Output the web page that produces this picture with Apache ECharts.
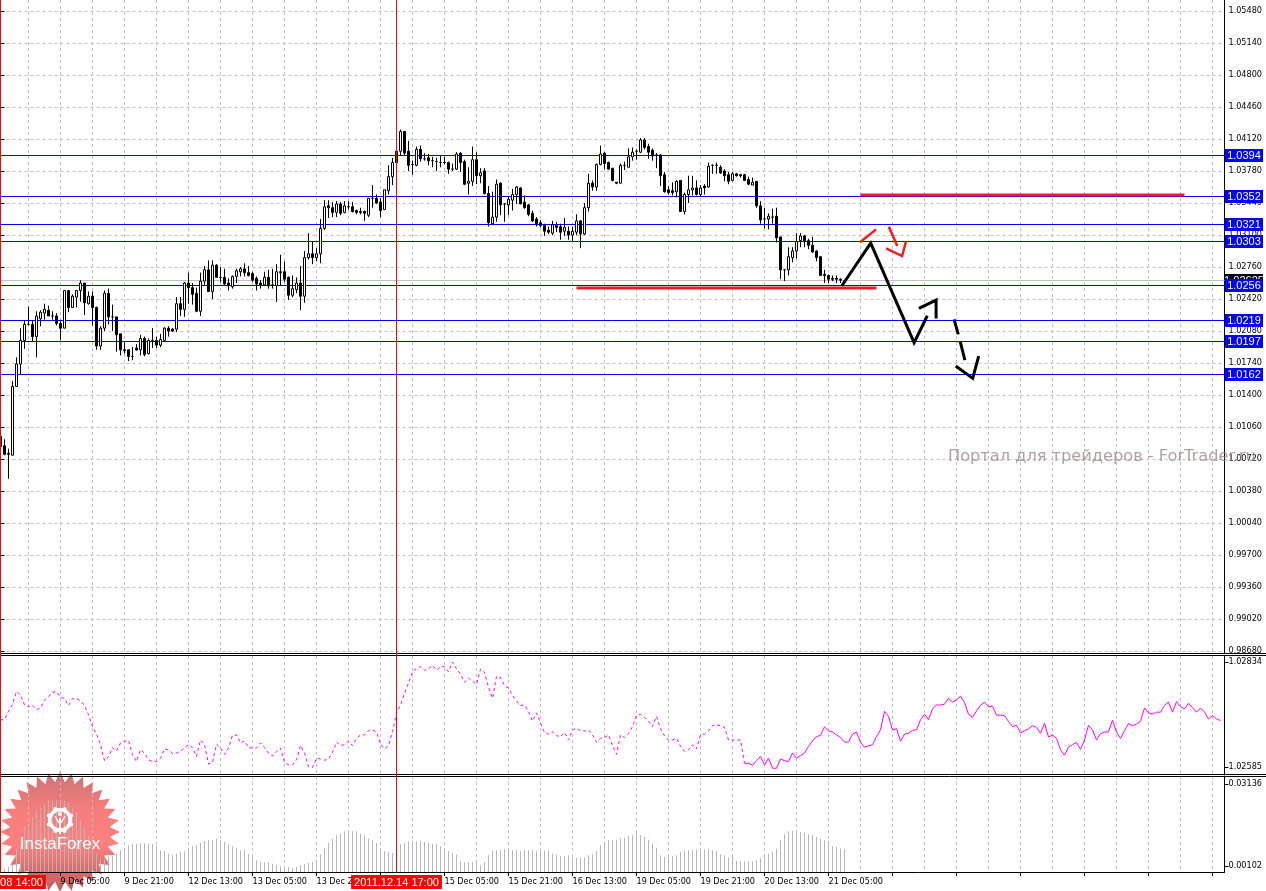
<!DOCTYPE html>
<html><head><meta charset="utf-8"><style>html,body{margin:0;padding:0;background:#fff}#c{width:1266px;height:891px}</style>
<script src="https://cdn.jsdelivr.net/npm/echarts@6/dist/echarts.min.js"></script></head><body><div id="c"></div>
<script>
const barOpen=[1.0095,1.0085,1.0077,1.0075,1.0148,1.0172,1.0197,1.0214,1.0214,1.0201,1.0220,1.0226,1.0229,1.0223,1.0223,1.0215,1.0210,1.0250,1.0232,1.0243,1.0250,1.0258,1.0236,1.0244,1.0232,1.0191,1.0210,1.0247,1.0222,1.0222,1.0204,1.0187,1.0187,1.0180,1.0189,1.0187,1.0199,1.0183,1.0197,1.0197,1.0192,1.0197,1.0210,1.0209,1.0209,1.0236,1.0230,1.0258,1.0253,1.0247,1.0228,1.0260,1.0272,1.0249,1.0277,1.0264,1.0264,1.0258,1.0254,1.0265,1.0270,1.0273,1.0269,1.0268,1.0263,1.0258,1.0256,1.0264,1.0256,1.0255,1.0270,1.0270,1.0264,1.0245,1.0251,1.0258,1.0244,1.0285,1.0289,1.0285,1.0289,1.0316,1.0340,1.0338,1.0333,1.0342,1.0333,1.0339,1.0339,1.0335,1.0334,1.0334,1.0330,1.0348,1.0348,1.0344,1.0336,1.0356,1.0371,1.0398,1.0398,1.0419,1.0398,1.0384,1.0383,1.0400,1.0390,1.0391,1.0388,1.0387,1.0386,1.0386,1.0386,1.0379,1.0379,1.0396,1.0387,1.0364,1.0366,1.0389,1.0372,1.0377,1.0353,1.0321,1.0328,1.0364,1.0342,1.0341,1.0346,1.0352,1.0359,1.0344,1.0341,1.0332,1.0326,1.0322,1.0319,1.0314,1.0311,1.0319,1.0318,1.0313,1.0313,1.0309,1.0312,1.0324,1.0310,1.0338,1.0364,1.0360,1.0384,1.0396,1.0386,1.0380,1.0365,1.0364,1.0383,1.0381,1.0392,1.0398,1.0397,1.0410,1.0403,1.0399,1.0394,1.0394,1.0373,1.0357,1.0356,1.0355,1.0367,1.0334,1.0352,1.0357,1.0359,1.0352,1.0361,1.0360,1.0383,1.0383,1.0381,1.0377,1.0373,1.0367,1.0374,1.0373,1.0373,1.0368,1.0362,1.0366,1.0340,1.0326,1.0326,1.0328,1.0329,1.0307,1.0272,1.0272,1.0285,1.0292,1.0303,1.0308,1.0303,1.0298,1.0292,1.0286,1.0267,1.0266,1.0263,1.0263,1.0262,1.0260];
const barClose=[1.0084,1.0076,1.0076,1.0148,1.0172,1.0197,1.0214,1.0214,1.0201,1.0223,1.0227,1.0230,1.0223,1.0223,1.0215,1.0210,1.0250,1.0232,1.0244,1.0250,1.0258,1.0237,1.0244,1.0232,1.0191,1.0210,1.0247,1.0222,1.0222,1.0203,1.0187,1.0186,1.0180,1.0180,1.0187,1.0199,1.0182,1.0197,1.0197,1.0192,1.0198,1.0210,1.0207,1.0207,1.0236,1.0230,1.0258,1.0253,1.0246,1.0228,1.0260,1.0272,1.0249,1.0277,1.0264,1.0264,1.0257,1.0255,1.0265,1.0271,1.0273,1.0269,1.0266,1.0261,1.0257,1.0256,1.0264,1.0255,1.0256,1.0270,1.0269,1.0262,1.0245,1.0252,1.0258,1.0244,1.0285,1.0289,1.0285,1.0289,1.0316,1.0339,1.0338,1.0333,1.0342,1.0332,1.0340,1.0339,1.0334,1.0333,1.0333,1.0332,1.0348,1.0348,1.0343,1.0335,1.0357,1.0371,1.0386,1.0386,1.0419,1.0396,1.0383,1.0384,1.0400,1.0390,1.0390,1.0388,1.0388,1.0387,1.0386,1.0386,1.0379,1.0379,1.0395,1.0386,1.0363,1.0366,1.0389,1.0372,1.0375,1.0353,1.0322,1.0328,1.0363,1.0341,1.0342,1.0347,1.0352,1.0360,1.0342,1.0338,1.0331,1.0324,1.0321,1.0319,1.0313,1.0312,1.0320,1.0317,1.0312,1.0317,1.0309,1.0313,1.0324,1.0310,1.0338,1.0364,1.0360,1.0384,1.0395,1.0385,1.0379,1.0367,1.0364,1.0383,1.0383,1.0392,1.0397,1.0398,1.0410,1.0402,1.0397,1.0393,1.0394,1.0372,1.0355,1.0354,1.0354,1.0366,1.0334,1.0352,1.0357,1.0359,1.0352,1.0359,1.0359,1.0382,1.0383,1.0383,1.0375,1.0372,1.0366,1.0374,1.0372,1.0372,1.0367,1.0363,1.0365,1.0340,1.0325,1.0326,1.0329,1.0328,1.0306,1.0272,1.0272,1.0286,1.0292,1.0302,1.0308,1.0303,1.0298,1.0291,1.0285,1.0266,1.0266,1.0262,1.0262,1.0262,1.0261,1.0260];
const barLow=[1.0082,1.0075,1.0050,1.0075,1.0148,1.0161,1.0188,1.0213,1.0196,1.0179,1.0212,1.0219,1.0223,1.0219,1.0213,1.0197,1.0210,1.0227,1.0232,1.0232,1.0238,1.0224,1.0235,1.0213,1.0187,1.0187,1.0207,1.0214,1.0207,1.0185,1.0181,1.0183,1.0175,1.0176,1.0186,1.0181,1.0180,1.0182,1.0189,1.0189,1.0190,1.0196,1.0201,1.0206,1.0206,1.0223,1.0222,1.0236,1.0235,1.0227,1.0223,1.0256,1.0249,1.0241,1.0264,1.0259,1.0256,1.0250,1.0252,1.0258,1.0265,1.0265,1.0265,1.0259,1.0250,1.0252,1.0255,1.0252,1.0252,1.0238,1.0255,1.0259,1.0240,1.0243,1.0247,1.0229,1.0237,1.0283,1.0278,1.0281,1.0279,1.0314,1.0327,1.0328,1.0328,1.0330,1.0332,1.0336,1.0333,1.0331,1.0331,1.0324,1.0328,1.0338,1.0342,1.0328,1.0336,1.0352,1.0362,1.0386,1.0393,1.0393,1.0377,1.0373,1.0382,1.0387,1.0388,1.0383,1.0381,1.0377,1.0381,1.0384,1.0374,1.0377,1.0378,1.0376,1.0362,1.0352,1.0361,1.0363,1.0364,1.0352,1.0318,1.0320,1.0323,1.0330,1.0323,1.0330,1.0335,1.0342,1.0342,1.0337,1.0329,1.0323,1.0318,1.0317,1.0308,1.0310,1.0309,1.0312,1.0304,1.0308,1.0304,1.0302,1.0309,1.0295,1.0309,1.0334,1.0356,1.0356,1.0383,1.0379,1.0378,1.0366,1.0363,1.0364,1.0378,1.0381,1.0388,1.0389,1.0396,1.0400,1.0390,1.0388,1.0380,1.0361,1.0354,1.0352,1.0351,1.0349,1.0334,1.0331,1.0343,1.0351,1.0351,1.0350,1.0352,1.0359,1.0374,1.0374,1.0374,1.0366,1.0363,1.0366,1.0371,1.0370,1.0367,1.0362,1.0362,1.0338,1.0321,1.0316,1.0315,1.0321,1.0301,1.0262,1.0260,1.0266,1.0280,1.0284,1.0296,1.0296,1.0294,1.0290,1.0281,1.0266,1.0258,1.0258,1.0260,1.0258,1.0258,1.0258];
const barHigh=[1.0100,1.0092,1.0082,1.0154,1.0179,1.0210,1.0218,1.0233,1.0218,1.0228,1.0229,1.0236,1.0234,1.0228,1.0226,1.0219,1.0250,1.0250,1.0246,1.0250,1.0261,1.0258,1.0249,1.0249,1.0233,1.0212,1.0250,1.0252,1.0235,1.0222,1.0204,1.0195,1.0187,1.0190,1.0193,1.0203,1.0201,1.0199,1.0210,1.0201,1.0204,1.0211,1.0212,1.0210,1.0243,1.0243,1.0259,1.0269,1.0258,1.0253,1.0269,1.0276,1.0282,1.0282,1.0278,1.0275,1.0273,1.0263,1.0266,1.0273,1.0275,1.0279,1.0276,1.0270,1.0265,1.0261,1.0270,1.0272,1.0273,1.0278,1.0288,1.0281,1.0265,1.0266,1.0264,1.0276,1.0292,1.0311,1.0302,1.0295,1.0326,1.0346,1.0346,1.0344,1.0345,1.0344,1.0345,1.0345,1.0344,1.0336,1.0338,1.0335,1.0348,1.0362,1.0352,1.0348,1.0357,1.0383,1.0391,1.0398,1.0421,1.0419,1.0409,1.0388,1.0403,1.0404,1.0396,1.0395,1.0392,1.0391,1.0393,1.0392,1.0387,1.0385,1.0397,1.0397,1.0389,1.0381,1.0403,1.0397,1.0380,1.0380,1.0361,1.0355,1.0368,1.0365,1.0343,1.0350,1.0358,1.0361,1.0360,1.0351,1.0342,1.0335,1.0328,1.0325,1.0321,1.0318,1.0324,1.0323,1.0321,1.0327,1.0318,1.0318,1.0331,1.0325,1.0343,1.0374,1.0367,1.0385,1.0404,1.0397,1.0387,1.0380,1.0365,1.0385,1.0387,1.0401,1.0402,1.0400,1.0412,1.0412,1.0406,1.0401,1.0396,1.0395,1.0376,1.0361,1.0365,1.0367,1.0367,1.0354,1.0372,1.0372,1.0367,1.0362,1.0363,1.0386,1.0384,1.0386,1.0383,1.0379,1.0376,1.0376,1.0375,1.0374,1.0374,1.0371,1.0370,1.0366,1.0345,1.0338,1.0332,1.0337,1.0338,1.0307,1.0273,1.0296,1.0296,1.0311,1.0311,1.0309,1.0305,1.0307,1.0293,1.0286,1.0272,1.0267,1.0266,1.0266,1.0263,1.0261];
const indicator=[1.02697,1.02697,1.02717,1.02734,1.02764,1.02756,1.02732,1.02728,1.02732,1.02721,1.02725,1.02744,1.02752,1.02762,1.02764,1.02750,1.02748,1.02731,1.02747,1.02747,1.02742,1.02731,1.02709,1.02681,1.02663,1.02638,1.02600,1.02610,1.02631,1.02623,1.02642,1.02646,1.02648,1.02614,1.02598,1.02626,1.02618,1.02602,1.02598,1.02598,1.02606,1.02628,1.02626,1.02617,1.02618,1.02622,1.02631,1.02638,1.02631,1.02610,1.02649,1.02638,1.02592,1.02596,1.02639,1.02630,1.02615,1.02630,1.02660,1.02661,1.02642,1.02647,1.02631,1.02630,1.02630,1.02642,1.02631,1.02618,1.02611,1.02622,1.02630,1.02596,1.02590,1.02590,1.02602,1.02636,1.02618,1.02586,1.02584,1.02606,1.02604,1.02601,1.02604,1.02620,1.02644,1.02636,1.02638,1.02646,1.02636,1.02653,1.02661,1.02661,1.02671,1.02673,1.02668,1.02639,1.02628,1.02636,1.02669,1.02713,1.02732,1.02760,1.02784,1.02811,1.02819,1.02823,1.02814,1.02818,1.02826,1.02815,1.02823,1.02823,1.02811,1.02834,1.02818,1.02805,1.02786,1.02796,1.02788,1.02781,1.02817,1.02810,1.02774,1.02748,1.02800,1.02797,1.02778,1.02772,1.02755,1.02742,1.02731,1.02732,1.02717,1.02694,1.02713,1.02689,1.02667,1.02663,1.02669,1.02659,1.02657,1.02667,1.02649,1.02673,1.02677,1.02671,1.02670,1.02673,1.02661,1.02644,1.02653,1.02655,1.02661,1.02636,1.02615,1.02661,1.02655,1.02664,1.02681,1.02707,1.02710,1.02703,1.02693,1.02681,1.02705,1.02676,1.02659,1.02649,1.02649,1.02653,1.02634,1.02622,1.02626,1.02638,1.02628,1.02661,1.02663,1.02671,1.02683,1.02685,1.02683,1.02679,1.02649,1.02649,1.02649,1.02649,1.02594,1.02594,1.02589,1.02600,1.02610,1.02590,1.02606,1.02582,1.02582,1.02604,1.02600,1.02598,1.02618,1.02606,1.02612,1.02618,1.02634,1.02647,1.02657,1.02660,1.02680,1.02671,1.02668,1.02661,1.02655,1.02644,1.02644,1.02663,1.02668,1.02644,1.02632,1.02635,1.02638,1.02657,1.02673,1.02717,1.02705,1.02673,1.02676,1.02646,1.02663,1.02665,1.02672,1.02673,1.02697,1.02710,1.02697,1.02723,1.02732,1.02732,1.02734,1.02748,1.02739,1.02744,1.02753,1.02738,1.02710,1.02703,1.02718,1.02731,1.02739,1.02728,1.02729,1.02708,1.02708,1.02707,1.02693,1.02681,1.02684,1.02666,1.02671,1.02675,1.02683,1.02679,1.02665,1.02689,1.02656,1.02661,1.02653,1.02626,1.02613,1.02632,1.02638,1.02643,1.02627,1.02649,1.02684,1.02673,1.02649,1.02664,1.02668,1.02668,1.02696,1.02668,1.02653,1.02671,1.02688,1.02683,1.02687,1.02693,1.02725,1.02713,1.02710,1.02715,1.02715,1.02731,1.02739,1.02715,1.02740,1.02728,1.02723,1.02736,1.02726,1.02715,1.02725,1.02715,1.02699,1.02707,1.02699,1.02695];
const dashedUntil=186;
const histogram=[0.00036,0.00119,0.00178,0.00297,0.00832,0.00950,0.01604,0.01544,0.01960,0.02198,0.02316,0.02435,0.02554,0.02554,0.02554,0.02530,0.02530,0.02459,0.02316,0.02138,0.01841,0.01604,0.01307,0.01010,0.00653,0.00511,0.00511,0.00558,0.00558,0.00653,0.00772,0.00867,0.00950,0.00986,0.01010,0.01022,0.01022,0.01010,0.00998,0.00927,0.00772,0.00748,0.00653,0.00594,0.00653,0.00713,0.00737,0.00867,0.00915,0.00950,0.01033,0.01105,0.01129,0.01152,0.01188,0.01129,0.01069,0.00986,0.00915,0.00867,0.00772,0.00796,0.00653,0.00594,0.00416,0.00344,0.00344,0.00344,0.00297,0.00238,0.00202,0.00119,0.00178,0.00154,0.00178,0.00238,0.00273,0.00321,0.00356,0.00440,0.00630,0.00867,0.01033,0.01188,0.01307,0.01366,0.01449,0.01449,0.01449,0.01449,0.01366,0.01307,0.01188,0.01129,0.01033,0.00772,0.00748,0.00713,0.00677,0.00713,0.00986,0.01033,0.01093,0.01093,0.01093,0.01093,0.01069,0.01033,0.01010,0.00986,0.00915,0.00832,0.00748,0.00677,0.00618,0.00392,0.00344,0.00344,0.00344,0.00392,0.00238,0.00356,0.00594,0.00772,0.00772,0.00772,0.00808,0.00808,0.00772,0.00772,0.00737,0.00772,0.00772,0.00772,0.00737,0.00772,0.00760,0.00772,0.00653,0.00618,0.00558,0.00558,0.00594,0.00511,0.00511,0.00511,0.00511,0.00594,0.00630,0.00748,0.00950,0.01069,0.01129,0.01152,0.01152,0.01212,0.01212,0.01283,0.01307,0.01414,0.01307,0.01247,0.01152,0.01010,0.00867,0.00594,0.00535,0.00558,0.00558,0.00594,0.00713,0.00760,0.00772,0.00772,0.00796,0.00808,0.00808,0.00808,0.00772,0.00737,0.00630,0.00594,0.00511,0.00558,0.00392,0.00380,0.00380,0.00380,0.00380,0.00416,0.00487,0.00594,0.00653,0.00713,0.00832,0.01129,0.01342,0.01449,0.01461,0.01461,0.01425,0.01390,0.01342,0.01307,0.01247,0.01188,0.01129,0.01105,0.00915,0.00891,0.00843,0.00808];
const tickLabels=['9 Dec 05:00','9 Dec 21:00','12 Dec 13:00','13 Dec 05:00','13 Dec 21:00','14 Dec 13:00','15 Dec 05:00','15 Dec 21:00','16 Dec 13:00','19 Dec 05:00','19 Dec 21:00','20 Dec 13:00','21 Dec 05:00'];
const levelValues=[1.0262,1.0394,1.03514,1.0321,1.0303,1.0256,1.0219,1.0197,1.0162];
const levelLabels=['1.02625','1.0394','1.0352','1.0321','1.0303','1.0256','1.0219','1.0197','1.0162'];
const redResistance=[[215,1.03514],[296,1.03514]];
const redSupport=[[144,1.02526],[219,1.02526]];
const blackMove=[[210.3,1.02548],[217.55,1.03003],[228.4,1.01946],[231.7,1.02232]];
const blackHead=[[229.6,1.02311],[233.9,1.02399],[233.9,1.02204]];
const dash1=[[238.4,1.02194],[239.45,1.02034]];
const dash2=[[239.9,1.01963],[241.1,1.01761]];
const dashHead=[[238.8,1.01698],[243.05,1.01567],[244.55,1.01804]];
const redUp=[[214.9,1.03014],[218.9,1.03150]];
const redDown=[[222.1,1.03178],[224.2,1.02973]];
const redDownHead=[[221.4,1.02948],[225.4,1.02866],[226.4,1.03026]];
// the price readings above were taken one scale pixel low; this calibrates them to the axis
const readingBias=0.0001;

const barCount=307;
const xData=Array.from({length:barCount},(_,i)=>(i%16===15&&tickLabels[(i-15)/16])||'');
const font='"DejaVu Sans Condensed","Liberation Sans"';
const gridDash={color:'#c4bcc4',type:[3,3],width:1};
const L=0.5,W=1224;
const mkX=(g,extra)=>Object.assign({type:'category',gridIndex:g,data:xData,boundaryGap:false,axisLine:{show:false},axisTick:{show:false},axisLabel:{show:false},splitLine:{show:false}},extra||{});
const vSplit={show:true,interval:i=>i%8===7,lineStyle:gridDash};
const mkY=(g,extra)=>Object.assign({type:'value',gridIndex:g,position:'right',scale:true,axisLine:{show:false},axisTick:{show:false},axisLabel:{show:false},splitLine:{show:false}},extra||{});
const yLabel=d=>({show:true,color:'#000',fontFamily:font,fontSize:9,margin:4,padding:[3,0,0,0],formatter:v=>v.toFixed(d)});
const yTick={show:true,length:4,lineStyle:{color:'#000'}};

const G=(top,height)=>({left:L,width:W,top,height,outerBoundsMode:'none'});
const grids=[G(11,640),G(662,105),G(776,96),G(784,82),G(0,653),G(656,118),G(0,872)];
const xAxes=[
 mkX(0),mkX(1),
 mkX(2,{z:5,splitLine:vSplit,axisLine:{show:true,lineStyle:{color:'#000'}},axisTick:{show:true,length:4,interval:i=>i%16===15,lineStyle:{color:'#000'}},axisLabel:{show:true,interval:i=>!!xData[i],hideOverlap:false,align:'left',margin:5.5,color:'#000',fontFamily:font,fontSize:9}}),
 mkX(3),
 mkX(4,{splitLine:vSplit}),mkX(5,{splitLine:vSplit}),mkX(6),
 {type:'value',gridIndex:0,min:0,max:barCount-1,show:false}
];
const axisLineOn={show:true,lineStyle:{color:'#000'}};
const yAxes=[
 mkY(0,{min:0.9868,max:1.0548,interval:0.0034,axisLabel:yLabel(5),axisTick:yTick,splitLine:{show:true,lineStyle:gridDash}}),
 mkY(1,{min:1.02585,max:1.02834,interval:0.00249,axisLabel:yLabel(5),axisTick:yTick}),
 mkY(2,{min:0,max:0.03421,axisLine:axisLineOn}),
 mkY(3,{min:0.00102,max:0.03136,interval:0.03034,axisLabel:yLabel(5),axisTick:yTick}),
 mkY(4,{min:0,max:1,axisLine:axisLineOn}),
 mkY(5,{min:0,max:1,axisLine:axisLineOn}),
 mkY(6,{min:0,max:1})
];
const path=(d,color,width,extra)=>Object.assign({type:'line',xAxisIndex:7,yAxisIndex:0,data:d.map(p=>[p[0],p[1]+readingBias]),symbol:'none',silent:true,z:9,lineStyle:{color,width,cap:'butt',join:'miter'}},extra||{});
const redLine=(i,text)=>({xAxis:i,label:{formatter:text}});
const levelSeries={type:'custom',xAxisIndex:7,yAxisIndex:0,silent:true,z:3,clip:false,
 data:levelValues.map((v,i)=>[0,v,i]),
 renderItem(params,api){
  const i=api.value(2),y=Math.floor(api.coord([0,api.value(1)])[1])+0.5,bid=i===0;
  return {type:'group',children:[
   {type:'line',shape:{x1:0,y1:y,x2:1224.5,y2:y},style:{stroke:bid?'#c0c0c0':'#0000ff',lineWidth:1}},
   {type:'rect',shape:{x:1225,y:y-6.5,width:38,height:13},style:{fill:bid?'#000':'#0000ff'}},
   {type:'text',x:1244,y:y+0.5,style:{text:levelLabels[i],fill:'#fff',font:'11px "Liberation Sans"',textAlign:'center',textVerticalAlign:'middle'}}
  ]};
 }};
const series=[
 levelSeries,
 {type:'candlestick',xAxisIndex:0,yAxisIndex:0,barWidth:3,z:4,silent:true,
  data:barOpen.map((o,i)=>[o+readingBias,barClose[i]+readingBias,barLow[i]+readingBias,barHigh[i]+readingBias]),
  itemStyle:{color:'#fff',color0:'#000',borderColor:'#000',borderColor0:'#000',borderWidth:1}},
 path(redResistance,'#ee1c25',3),path(redSupport,'#ee1c25',3),
 path(blackMove,'#000',3,{z:10}),path(blackHead,'#000',3,{z:10}),path(dash1,'#000',3,{z:10}),path(dash2,'#000',3,{z:10}),path(dashHead,'#000',3,{z:10}),
 path(redUp,'#ee1c25',2.5,{z:10}),path(redDown,'#ee1c25',2.5,{z:10}),path(redDownHead,'#ee1c25',2.5,{z:10}),
 {type:'line',xAxisIndex:1,yAxisIndex:1,clip:false,symbol:'none',silent:true,z:4,data:indicator.map((v,i)=>i<=dashedUntil?v:null),lineStyle:{color:'#ff00ff',width:1,type:[3,3]}},
 {type:'line',xAxisIndex:1,yAxisIndex:1,clip:false,symbol:'none',silent:true,z:4,data:indicator.map((v,i)=>i>=dashedUntil?v:null),lineStyle:{color:'#ff00ff',width:1}},
 {type:'bar',xAxisIndex:2,yAxisIndex:2,barWidth:1,silent:true,z:6,data:histogram,itemStyle:{color:'#b6b6b6'}},
 {type:'line',xAxisIndex:3,yAxisIndex:3,data:[],symbol:'none'},
 {type:'line',xAxisIndex:6,yAxisIndex:6,data:[],symbol:'none',z:12,
  markLine:{silent:true,symbol:'none',z:20,animation:false,lineStyle:{color:'#ff0000',type:'solid',width:1},
   label:{position:'start',distance:3,color:'#fff',backgroundColor:'#ff0000',fontFamily:'"Liberation Sans"',fontSize:11,padding:[2,3,1,3]},
   data:[redLine(0,'2011.12.08 14:00'),redLine(99,'2011.12.14 17:00')]}}
];
// decoration: logo, watermark and pane separators
const cx=60,cy=832,spikes=32,ro=60,ri=50;
const star=[];for(let k=0;k<spikes*2;k++){const r=k%2?ri:ro,a=Math.PI*k/spikes-Math.PI/2;star.push([cx+r*Math.cos(a),cy+r*Math.sin(a)]);}
const logo=[{type:'polygon',z:1,silent:true,shape:{points:star},style:{opacity:0.9,fill:{type:'linear',x:0,y:0,x2:0,y2:1,colorStops:[{offset:0,color:'#c46464'},{offset:.3,color:'#f56e6e'},{offset:.6,color:'#ff7272'},{offset:1,color:'#b24a4a'}]}}}];
const gy=820;
logo.push({type:'ring',z:7,silent:true,shape:{cx,cy:gy,r:12,r0:8.5},style:{fill:'#fff'}});
for(let k=0;k<8;k++){const a=Math.PI*k/4+Math.PI/8;logo.push({type:'circle',z:7,silent:true,shape:{cx:cx+12*Math.cos(a),cy:gy+12*Math.sin(a),r:2},style:{fill:'#fff'}});}
logo.push({type:'circle',z:7,silent:true,shape:{cx,cy:gy-6,r:2},style:{fill:'#fff'}});
logo.push({type:'rect',z:7,silent:true,shape:{x:cx-1,y:gy-2,width:2,height:16},style:{fill:'#fff'}});
logo.push({type:'line',z:7,silent:true,shape:{x1:cx-5,y1:gy-4,x2:cx-1,y2:gy+3},style:{stroke:'#fff',lineWidth:1.5}});
logo.push({type:'line',z:7,silent:true,shape:{x1:cx+5,y1:gy-4,x2:cx+1,y2:gy+3},style:{stroke:'#fff',lineWidth:1.5}});
logo.push({type:'text',z:7,silent:true,x:cx,y:844,style:{text:'InstaForex',fill:'#fff',font:'17px "Liberation Sans"',textAlign:'center',textVerticalAlign:'middle'}});
const sep=[653.5,655.5,774.5,776.5].map(y=>({type:'line',z:8,silent:true,shape:{x1:0,y1:y,x2:1266,y2:y},style:{stroke:'#000',lineWidth:1}}));
const mark={type:'text',z:15,silent:true,x:948,y:457,style:{text:'Портал для трейдеров - ForTrader.ru',fill:'rgba(150,130,130,0.75)',font:'16.2px "DejaVu Sans"',textVerticalAlign:'middle'}};
const chart=echarts.init(document.getElementById('c'));
chart.setOption({animation:false,backgroundColor:'#fff',grid:grids,xAxis:xAxes,yAxis:yAxes,series,graphic:{elements:logo.concat(sep,[mark])}});
</script></body></html>
